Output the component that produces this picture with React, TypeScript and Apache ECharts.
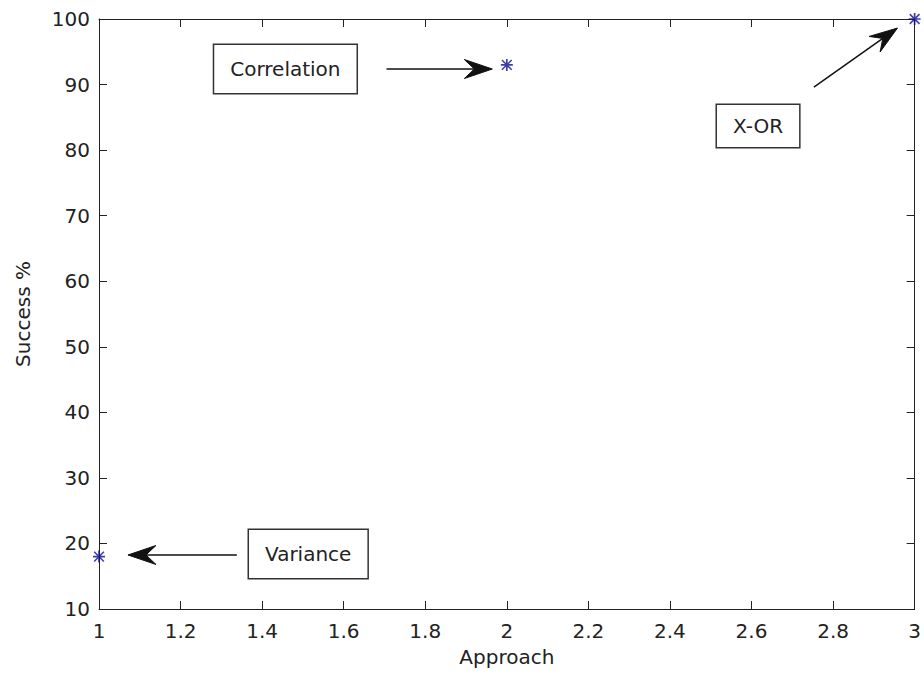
import React, { useEffect, useRef } from "react";
import * as echarts from "echarts";

// Data
const approachValues = [1, 2, 3];
const successValues = [18, 93, 100];

// Axis ticks
const xMin = 1;
const xMax = 3;
const xInterval = 0.2;
const yMin = 10;
const yMax = 100;
const yInterval = 10;

// Annotations (data coordinates)
const annotationLabels = ["Correlation", "Variance", "X-OR"];
const labelX = [1.457, 1.513, 2.616];
const labelY = [92.37, 18.39, 83.67];
const arrowFromX = [1.705, 1.338, 2.753];
const arrowFromY = [92.37, 18.24, 89.62];
const arrowToX = [1.9645, 1.071, 2.958];
const arrowToY = [92.37, 18.24, 98.62];

// Box paddings (style)
const boxPadding = [
  [14, 16, 14, 16],
  [14, 16, 14, 16],
  [11, 16, 11, 16],
];

const FONT = "DejaVu Sans";
const TEXT_COLOR = "#222";
const AXIS_COLOR = "#222";
const STAR_COLOR = "#0c0c8f";

const starPath =
  "path://M4.3 0H5.7V10H4.3Z M0 4.3H10V5.7H0Z M1.4 0.5L9.5 8.6L8.6 9.5L0.5 1.4Z M8.6 0.5L9.5 1.4L1.4 9.5L0.5 8.6Z";

export default function App() {
  const ref = useRef<HTMLDivElement>(null);

  useEffect(() => {
    if (!ref.current) return;
    const chart = echarts.init(ref.current, undefined, { renderer: "svg" });

    const axisCommon = {
      type: "value" as const,
      splitLine: { show: false },
      axisLine: { show: true, lineStyle: { color: AXIS_COLOR, width: 1 } },
      axisTick: { show: true, inside: true, length: 8, lineStyle: { color: AXIS_COLOR, width: 1 } },
    };

    const labelStyle = { color: TEXT_COLOR, fontFamily: FONT, fontSize: 20 };

    const option = {
      animation: false,
      backgroundColor: "#ffffff",
      grid: { left: 99, right: 8, top: 19, bottom: 66, containLabel: false },
      xAxis: [
        {
          ...axisCommon,
          position: "bottom",
          min: xMin,
          max: xMax,
          interval: xInterval,
          axisLabel: {
            ...labelStyle,
            margin: 12,
            formatter: (v: number) => String(Math.round(v * 10) / 10),
          },
          name: "Approach",
          nameLocation: "middle",
          nameGap: 38,
          nameTextStyle: labelStyle,
        },
        {
          ...axisCommon,
          position: "top",
          min: xMin,
          max: xMax,
          interval: xInterval,
          axisLabel: { show: false },
        },
      ],
      yAxis: [
        {
          ...axisCommon,
          position: "left",
          min: yMin,
          max: yMax,
          interval: yInterval,
          axisLabel: { ...labelStyle, margin: 9 },
          name: "Success %",
          nameLocation: "middle",
          nameGap: 66,
          nameTextStyle: labelStyle,
        },
        {
          ...axisCommon,
          position: "right",
          min: yMin,
          max: yMax,
          interval: yInterval,
          axisLabel: { show: false },
        },
      ],
      series: [
        {
          type: "custom",
          xAxisIndex: 0,
          yAxisIndex: 0,
          clip: false,
          silent: true,
          data: annotationLabels.map((_, i) => [arrowFromX[i], arrowFromY[i], arrowToX[i], arrowToY[i]]),
          renderItem: (params: any, api: any) => {
            const p1 = api.coord([api.value(0), api.value(1)]);
            const p2 = api.coord([api.value(2), api.value(3)]);
            const dx = p2[0] - p1[0];
            const dy = p2[1] - p1[1];
            const len = Math.sqrt(dx * dx + dy * dy) || 1;
            const ux = dx / len;
            const uy = dy / len;
            const px = -uy;
            const py = ux;
            const L = 28;
            const N = 18;
            const W = 9.5;
            const back = [p2[0] - ux * L, p2[1] - uy * L];
            const notch = [p2[0] - ux * N, p2[1] - uy * N];
            return {
              type: "group",
              children: [
                {
                  type: "line",
                  shape: { x1: p1[0], y1: p1[1], x2: notch[0], y2: notch[1] },
                  style: { stroke: "#111", lineWidth: 1.5 },
                },
                {
                  type: "polygon",
                  shape: {
                    points: [
                      [p2[0], p2[1]],
                      [back[0] + px * W, back[1] + py * W],
                      [notch[0], notch[1]],
                      [back[0] - px * W, back[1] - py * W],
                    ],
                  },
                  style: { fill: "#111", stroke: "#111", lineWidth: 1 },
                },
              ],
            };
          },
        },
        {
          type: "custom",
          xAxisIndex: 0,
          yAxisIndex: 0,
          clip: false,
          silent: true,
          data: annotationLabels.map((_, i) => [labelX[i], labelY[i]]),
          renderItem: (params: any, api: any) => {
            const p = api.coord([api.value(0), api.value(1)]);
            return {
              type: "text",
              x: p[0],
              y: p[1],
              style: {
                text: annotationLabels[params.dataIndex],
                align: "center",
                verticalAlign: "middle",
                fill: TEXT_COLOR,
                font: `20px "${FONT}"`,
                padding: boxPadding[params.dataIndex],
                backgroundColor: "#ffffff",
                borderColor: "#333",
                borderWidth: 1.5,
              },
            };
          },
        },
        {
          type: "scatter",
          xAxisIndex: 0,
          yAxisIndex: 0,
          clip: false,
          symbol: starPath,
          symbolSize: 12,
          itemStyle: { color: STAR_COLOR },
          data: approachValues.map((x, i) => [x, successValues[i]]),
          z: 10,
        },
      ],
    };

    chart.setOption(option as any);
    return () => chart.dispose();
  }, []);

  return (
    <div
      ref={ref}
      style={{ position: "fixed", left: 0, top: 0, width: 924, height: 675, background: "#fff" }}
    />
  );
}
